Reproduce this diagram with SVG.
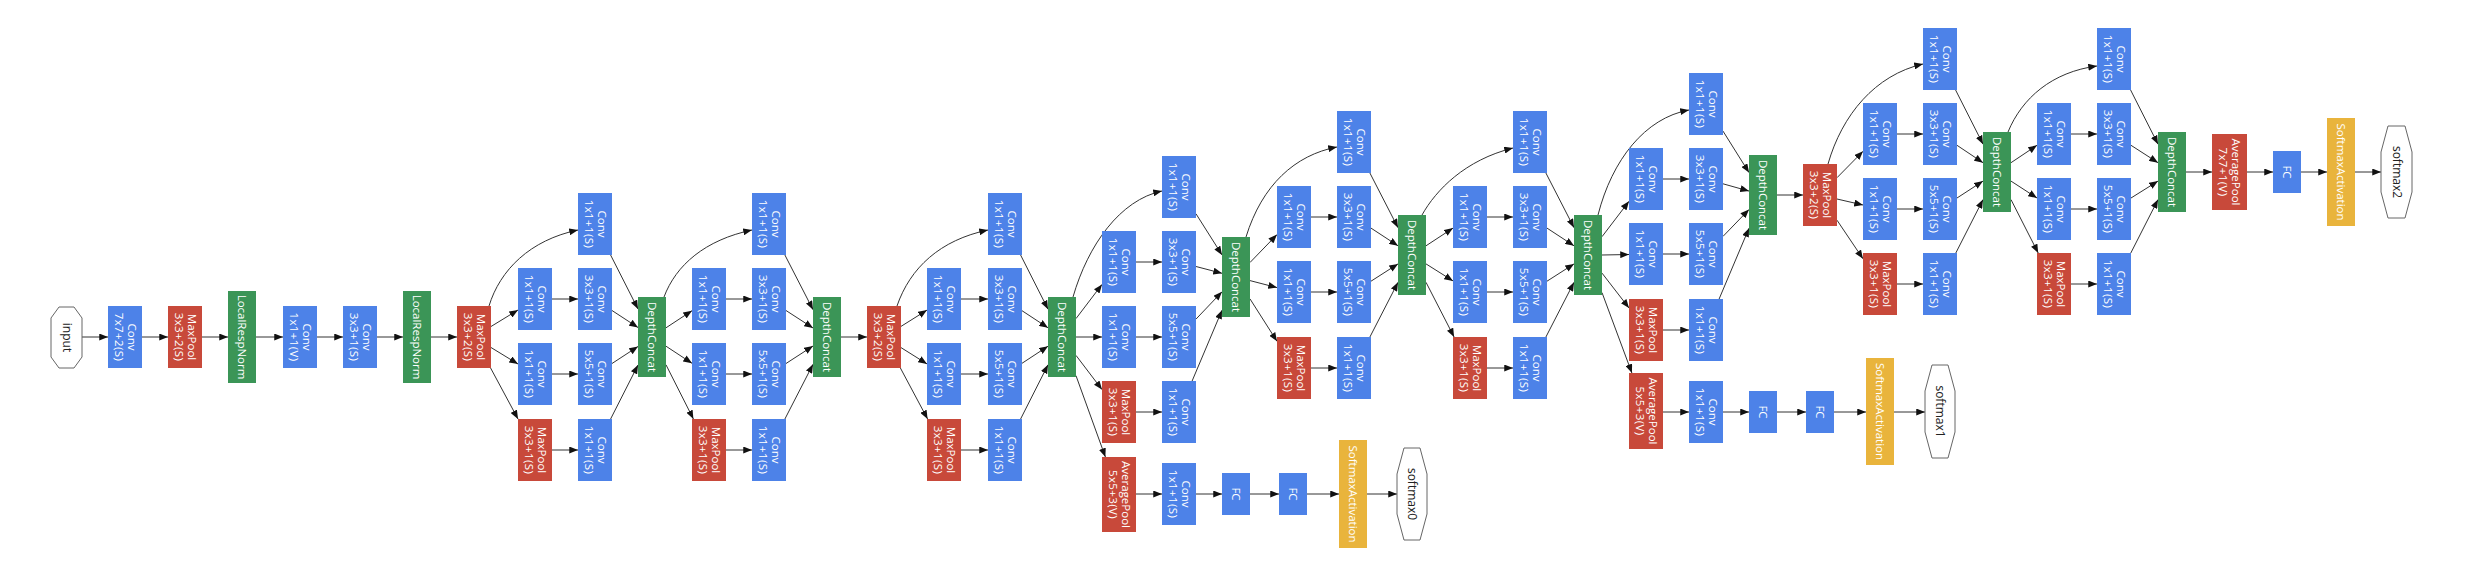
<svg xmlns="http://www.w3.org/2000/svg" width="2470" height="564" viewBox="0 0 2470 564">
<defs>
<marker id="ah" viewBox="0 0 10 8" refX="10" refY="4" markerWidth="9" markerHeight="7" markerUnits="userSpaceOnUse" orient="auto"><path d="M0,0L10,4L0,8z" fill="#111"/></marker>
<style>
.conv{fill:#4d82e8}
.pool{fill:#c8493a}
.dc{fill:#3b9557}
.sm{fill:#e9b43c}
.oct{fill:#fff;stroke:#666;stroke-width:1}
.t{font-family:"Open Sans","Noto Sans",sans-serif;font-size:11.5px;fill:#fff;text-anchor:middle}
.t tspan + tspan{letter-spacing:0.4px}
.to{font-family:"Open Sans","Noto Sans",sans-serif;font-size:12px;fill:#222;text-anchor:middle}
.e path{fill:none;stroke:#333;stroke-width:1;marker-end:url(#ah)}
</style>
</defs>
<rect width="2470" height="564" fill="#fff"/>
<g class="e" id="connectors">
<path d="M82 337H108"/><path d="M142 337H168"/><path d="M202 337H228"/><path d="M256 337H283"/><path d="M317 337H343"/><path d="M377 337H403"/><path d="M431 337H457"/>
<path d="M489 306C500 270 530 240 578 230"/><path d="M491 326.5L518 310"/><path d="M491 347.5L518 364"/><path d="M490.6 368L518 419"/>
<path d="M552 299H578"/><path d="M552 374H578"/><path d="M552 450H578"/>
<path d="M610.6 255L638 309"/><path d="M612 310.5L638 327.5"/><path d="M612 363.5L638 346.5"/><path d="M610.6 419L638 365"/>
<path d="M664 297C676 265 705 240 752 230"/><path d="M666 327.8L692 310.7"/><path d="M666 346.2L692 363.3"/><path d="M666 364.8L693.4 419"/>
<path d="M726 299H752"/><path d="M726 374H752"/><path d="M726 450H752"/>
<path d="M784.9 255L813 309.7"/><path d="M786 310.5L813 328"/><path d="M786 363.5L813 346"/><path d="M784.9 419L813 364.3"/>
<path d="M841 337H867"/>
<path d="M897 306C910 268 940 240 988 230"/><path d="M901 326.4L927 310.1"/><path d="M901 347.6L927 363.9"/><path d="M900.4 368L927.6 419"/>
<path d="M961 299H988"/><path d="M961 374H988"/><path d="M961 450H988"/>
<path d="M1020.6 255L1048 309.2"/><path d="M1022 310.7L1048 327.8"/><path d="M1022 363.3L1048 346.2"/><path d="M1020.6 419L1048 364.8"/>
<path d="M1073 297C1088 245 1120 200 1162 191"/><path d="M1076 318.6L1102 284.4"/><path d="M1076 337H1102"/><path d="M1076 355.4L1102 389.6"/><path d="M1076 375.7L1105.4 457"/>
<path d="M1136 262H1162"/><path d="M1136 337H1162"/><path d="M1136 412H1162"/><path d="M1136 494H1162"/>
<path d="M1196 494H1222"/><path d="M1250 494H1279"/><path d="M1307 494H1339"/><path d="M1367 494H1397"/>
<path d="M1196 213.8L1222 254.9"/><path d="M1196 266.5L1222 273.3"/><path d="M1196 319.1L1222 291.8"/><path d="M1192.1 381L1222 310.2"/>
<path d="M1246 237C1262 185 1295 155 1337 147"/><path d="M1250 262.5L1277 234.6"/><path d="M1250 280.6L1277 287.6"/><path d="M1250 298.9L1277 341.3"/>
<path d="M1311 217H1337"/><path d="M1311 292H1337"/><path d="M1311 368H1337"/>
<path d="M1369.9 173L1398 227.7"/><path d="M1371 228.1L1398 245.8"/><path d="M1371 281.2L1398 263.9"/><path d="M1369.9 337L1398 282.3"/>
<path d="M1422 215C1436 190 1465 160 1513 148"/><path d="M1426 245.8L1453 228.1"/><path d="M1426 263.9L1453 280.9"/><path d="M1426 282.3L1454.1 337"/>
<path d="M1487 217H1513"/><path d="M1487 292H1513"/><path d="M1487 368H1513"/>
<path d="M1545.9 173L1574 227.7"/><path d="M1547 228.1L1574 245.8"/><path d="M1547 281.2L1574 263.9"/><path d="M1545.9 337L1574 282.3"/>
<path d="M1598 215C1612 160 1645 118 1689 110"/><path d="M1602 236.7L1629 201.3"/><path d="M1602 255L1629 254.5"/><path d="M1602 273.1L1629 308"/><path d="M1602 292.6L1631.9 373"/>
<path d="M1663 179H1689"/><path d="M1663 254H1689"/><path d="M1663 330H1689"/><path d="M1663 412H1689"/>
<path d="M1723 412H1749"/><path d="M1777 412H1806"/><path d="M1834 412H1866"/><path d="M1894 412H1925"/>
<path d="M1723 131.1L1749 172.6"/><path d="M1723 183.8L1749 191.1"/><path d="M1723 236.4L1749 209.5"/><path d="M1719.1 299L1749 228.2"/>
<path d="M1777 195H1803"/>
<path d="M1828 164C1842 115 1875 75 1923 64"/><path d="M1837 177.7L1863 151.3"/><path d="M1837 199L1863 205"/><path d="M1837 220.2L1863 258.8"/>
<path d="M1897 134H1923"/><path d="M1897 209H1923"/><path d="M1897 284H1923"/>
<path d="M1955.6 90L1983 144.2"/><path d="M1957 145.3L1983 162.7"/><path d="M1957 198L1983 181.1"/><path d="M1955.8 253L1983 199.6"/>
<path d="M2008 132C2022 98 2052 72 2097 66"/><path d="M2011 162.7L2037 145.3"/><path d="M2011 181.1L2037 198"/><path d="M2011 199.6L2038.2 253"/>
<path d="M2071 134H2097"/><path d="M2071 209H2097"/><path d="M2071 284H2097"/>
<path d="M2130.6 90L2158 144.2"/><path d="M2131 145.3L2158 162.7"/><path d="M2131 198L2158 181.1"/><path d="M2130.8 253L2158 199.6"/>
<path d="M2186 172H2212"/><path d="M2247 172H2273"/><path d="M2301 172H2327"/><path d="M2355 172H2381"/>
</g>

<g id="input"><polygon class="oct" points="59,307 74,307 82,318 82,357 74,368 59,368 51,357 51,318"/><text class="to" font-size="11" transform="translate(66.5,337.5) rotate(90)" y="4">input</text></g>
<g id="conv1"><rect class="conv" x="108" y="306" width="34" height="62"/><text class="t" transform="translate(125,337) rotate(90)"><tspan x="0" y="-2.5">Conv</tspan><tspan x="0" y="10.5">7x7+2(S)</tspan></text></g>
<g id="pool1"><rect class="pool" x="168" y="306" width="34" height="62"/><text class="t" transform="translate(185,337) rotate(90)"><tspan x="0" y="-2.5">MaxPool</tspan><tspan x="0" y="10.5">3x3+2(S)</tspan></text></g>
<g id="lrn1"><rect class="dc" x="228" y="291" width="28" height="92"/><text class="t" transform="translate(242,337) rotate(90)" y="4">LocalRespNorm</text></g>
<g id="conv2"><rect class="conv" x="283" y="306" width="34" height="62"/><text class="t" transform="translate(300,337) rotate(90)"><tspan x="0" y="-2.5">Conv</tspan><tspan x="0" y="10.5">1x1+1(V)</tspan></text></g>
<g id="conv3"><rect class="conv" x="343" y="306" width="34" height="62"/><text class="t" transform="translate(360,337) rotate(90)"><tspan x="0" y="-2.5">Conv</tspan><tspan x="0" y="10.5">3x3+1(S)</tspan></text></g>
<g id="lrn2"><rect class="dc" x="403" y="291" width="28" height="92"/><text class="t" transform="translate(417,337) rotate(90)" y="4">LocalRespNorm</text></g>
<g id="pool2"><rect class="pool" x="457" y="306" width="34" height="62"/><text class="t" transform="translate(474,337) rotate(90)"><tspan x="0" y="-2.5">MaxPool</tspan><tspan x="0" y="10.5">3x3+2(S)</tspan></text></g>

<g id="i3a_1x1"><rect class="conv" x="578" y="193" width="34" height="62"/><text class="t" transform="translate(595,224) rotate(90)"><tspan x="0" y="-2.5">Conv</tspan><tspan x="0" y="10.5">1x1+1(S)</tspan></text></g>
<g id="i3a_3x3r"><rect class="conv" x="518" y="268" width="34" height="62"/><text class="t" transform="translate(535,299) rotate(90)"><tspan x="0" y="-2.5">Conv</tspan><tspan x="0" y="10.5">1x1+1(S)</tspan></text></g>
<g id="i3a_3x3"><rect class="conv" x="578" y="268" width="34" height="62"/><text class="t" transform="translate(595,299) rotate(90)"><tspan x="0" y="-2.5">Conv</tspan><tspan x="0" y="10.5">3x3+1(S)</tspan></text></g>
<g id="i3a_5x5r"><rect class="conv" x="518" y="343" width="34" height="62"/><text class="t" transform="translate(535,374) rotate(90)"><tspan x="0" y="-2.5">Conv</tspan><tspan x="0" y="10.5">1x1+1(S)</tspan></text></g>
<g id="i3a_5x5"><rect class="conv" x="578" y="343" width="34" height="62"/><text class="t" transform="translate(595,374) rotate(90)"><tspan x="0" y="-2.5">Conv</tspan><tspan x="0" y="10.5">5x5+1(S)</tspan></text></g>
<g id="i3a_pool"><rect class="pool" x="518" y="419" width="34" height="62"/><text class="t" transform="translate(535,450) rotate(90)"><tspan x="0" y="-2.5">MaxPool</tspan><tspan x="0" y="10.5">3x3+1(S)</tspan></text></g>
<g id="i3a_proj"><rect class="conv" x="578" y="419" width="34" height="62"/><text class="t" transform="translate(595,450) rotate(90)"><tspan x="0" y="-2.5">Conv</tspan><tspan x="0" y="10.5">1x1+1(S)</tspan></text></g>
<g id="i3a_dc"><rect class="dc" x="638" y="297" width="28" height="80"/><text class="t" transform="translate(652,337) rotate(90)" y="4">DepthConcat</text></g>

<g id="i3b_1x1"><rect class="conv" x="752" y="193" width="34" height="62"/><text class="t" transform="translate(769,224) rotate(90)"><tspan x="0" y="-2.5">Conv</tspan><tspan x="0" y="10.5">1x1+1(S)</tspan></text></g>
<g id="i3b_3x3r"><rect class="conv" x="692" y="268" width="34" height="62"/><text class="t" transform="translate(709,299) rotate(90)"><tspan x="0" y="-2.5">Conv</tspan><tspan x="0" y="10.5">1x1+1(S)</tspan></text></g>
<g id="i3b_3x3"><rect class="conv" x="752" y="268" width="34" height="62"/><text class="t" transform="translate(769,299) rotate(90)"><tspan x="0" y="-2.5">Conv</tspan><tspan x="0" y="10.5">3x3+1(S)</tspan></text></g>
<g id="i3b_5x5r"><rect class="conv" x="692" y="343" width="34" height="62"/><text class="t" transform="translate(709,374) rotate(90)"><tspan x="0" y="-2.5">Conv</tspan><tspan x="0" y="10.5">1x1+1(S)</tspan></text></g>
<g id="i3b_5x5"><rect class="conv" x="752" y="343" width="34" height="62"/><text class="t" transform="translate(769,374) rotate(90)"><tspan x="0" y="-2.5">Conv</tspan><tspan x="0" y="10.5">5x5+1(S)</tspan></text></g>
<g id="i3b_pool"><rect class="pool" x="692" y="419" width="34" height="62"/><text class="t" transform="translate(709,450) rotate(90)"><tspan x="0" y="-2.5">MaxPool</tspan><tspan x="0" y="10.5">3x3+1(S)</tspan></text></g>
<g id="i3b_proj"><rect class="conv" x="752" y="419" width="34" height="62"/><text class="t" transform="translate(769,450) rotate(90)"><tspan x="0" y="-2.5">Conv</tspan><tspan x="0" y="10.5">1x1+1(S)</tspan></text></g>
<g id="i3b_dc"><rect class="dc" x="813" y="297" width="28" height="80"/><text class="t" transform="translate(827,337) rotate(90)" y="4">DepthConcat</text></g>

<g id="pool3"><rect class="pool" x="867" y="306" width="34" height="62"/><text class="t" transform="translate(884,337) rotate(90)"><tspan x="0" y="-2.5">MaxPool</tspan><tspan x="0" y="10.5">3x3+2(S)</tspan></text></g>

<g id="i4a_1x1"><rect class="conv" x="988" y="193" width="34" height="62"/><text class="t" transform="translate(1005,224) rotate(90)"><tspan x="0" y="-2.5">Conv</tspan><tspan x="0" y="10.5">1x1+1(S)</tspan></text></g>
<g id="i4a_3x3r"><rect class="conv" x="927" y="268" width="34" height="62"/><text class="t" transform="translate(944,299) rotate(90)"><tspan x="0" y="-2.5">Conv</tspan><tspan x="0" y="10.5">1x1+1(S)</tspan></text></g>
<g id="i4a_3x3"><rect class="conv" x="988" y="268" width="34" height="62"/><text class="t" transform="translate(1005,299) rotate(90)"><tspan x="0" y="-2.5">Conv</tspan><tspan x="0" y="10.5">3x3+1(S)</tspan></text></g>
<g id="i4a_5x5r"><rect class="conv" x="927" y="343" width="34" height="62"/><text class="t" transform="translate(944,374) rotate(90)"><tspan x="0" y="-2.5">Conv</tspan><tspan x="0" y="10.5">1x1+1(S)</tspan></text></g>
<g id="i4a_5x5"><rect class="conv" x="988" y="343" width="34" height="62"/><text class="t" transform="translate(1005,374) rotate(90)"><tspan x="0" y="-2.5">Conv</tspan><tspan x="0" y="10.5">5x5+1(S)</tspan></text></g>
<g id="i4a_pool"><rect class="pool" x="927" y="419" width="34" height="62"/><text class="t" transform="translate(944,450) rotate(90)"><tspan x="0" y="-2.5">MaxPool</tspan><tspan x="0" y="10.5">3x3+1(S)</tspan></text></g>
<g id="i4a_proj"><rect class="conv" x="988" y="419" width="34" height="62"/><text class="t" transform="translate(1005,450) rotate(90)"><tspan x="0" y="-2.5">Conv</tspan><tspan x="0" y="10.5">1x1+1(S)</tspan></text></g>
<g id="i4a_dc"><rect class="dc" x="1048" y="297" width="28" height="80"/><text class="t" transform="translate(1062,337) rotate(90)" y="4">DepthConcat</text></g>

<g id="i4b_1x1"><rect class="conv" x="1162" y="156" width="34" height="62"/><text class="t" transform="translate(1179,187) rotate(90)"><tspan x="0" y="-2.5">Conv</tspan><tspan x="0" y="10.5">1x1+1(S)</tspan></text></g>
<g id="i4b_3x3r"><rect class="conv" x="1102" y="231" width="34" height="62"/><text class="t" transform="translate(1119,262) rotate(90)"><tspan x="0" y="-2.5">Conv</tspan><tspan x="0" y="10.5">1x1+1(S)</tspan></text></g>
<g id="i4b_3x3"><rect class="conv" x="1162" y="231" width="34" height="62"/><text class="t" transform="translate(1179,262) rotate(90)"><tspan x="0" y="-2.5">Conv</tspan><tspan x="0" y="10.5">3x3+1(S)</tspan></text></g>
<g id="i4b_5x5r"><rect class="conv" x="1102" y="306" width="34" height="62"/><text class="t" transform="translate(1119,337) rotate(90)"><tspan x="0" y="-2.5">Conv</tspan><tspan x="0" y="10.5">1x1+1(S)</tspan></text></g>
<g id="i4b_5x5"><rect class="conv" x="1162" y="306" width="34" height="62"/><text class="t" transform="translate(1179,337) rotate(90)"><tspan x="0" y="-2.5">Conv</tspan><tspan x="0" y="10.5">5x5+1(S)</tspan></text></g>
<g id="i4b_pool"><rect class="pool" x="1102" y="381" width="34" height="62"/><text class="t" transform="translate(1119,412) rotate(90)"><tspan x="0" y="-2.5">MaxPool</tspan><tspan x="0" y="10.5">3x3+1(S)</tspan></text></g>
<g id="i4b_proj"><rect class="conv" x="1162" y="381" width="34" height="62"/><text class="t" transform="translate(1179,412) rotate(90)"><tspan x="0" y="-2.5">Conv</tspan><tspan x="0" y="10.5">1x1+1(S)</tspan></text></g>
<g id="i4b_dc"><rect class="dc" x="1222" y="237" width="28" height="80"/><text class="t" transform="translate(1236,277) rotate(90)" y="4">DepthConcat</text></g>

<g id="aux0_pool"><rect class="pool" x="1102" y="457" width="34" height="75"/><text class="t" transform="translate(1119,494.5) rotate(90)"><tspan x="0" y="-2.5">AveragePool</tspan><tspan x="0" y="10.5">5x5+3(V)</tspan></text></g>
<g id="aux0_conv"><rect class="conv" x="1162" y="463" width="34" height="62"/><text class="t" transform="translate(1179,494) rotate(90)"><tspan x="0" y="-2.5">Conv</tspan><tspan x="0" y="10.5">1x1+1(S)</tspan></text></g>
<g id="aux0_fc1"><rect class="conv" x="1222" y="473" width="28" height="42"/><text class="t" transform="translate(1236,494) rotate(90)" y="4">FC</text></g>
<g id="aux0_fc2"><rect class="conv" x="1279" y="473" width="28" height="42"/><text class="t" transform="translate(1293,494) rotate(90)" y="4">FC</text></g>
<g id="aux0_sm"><rect class="sm" x="1339" y="440" width="28" height="108"/><text class="t" transform="translate(1353,494) rotate(90)" y="4">SoftmaxActivation</text></g>
<g id="softmax0"><polygon class="oct" points="1404,448 1420,448 1427,474 1427,514 1420,540 1404,540 1397,514 1397,474"/><text class="to" transform="translate(1412,494) rotate(90)" y="4">softmax0</text></g>

<g id="i4c_1x1"><rect class="conv" x="1337" y="111" width="34" height="62"/><text class="t" transform="translate(1354,142) rotate(90)"><tspan x="0" y="-2.5">Conv</tspan><tspan x="0" y="10.5">1x1+1(S)</tspan></text></g>
<g id="i4c_3x3r"><rect class="conv" x="1277" y="186" width="34" height="62"/><text class="t" transform="translate(1294,217) rotate(90)"><tspan x="0" y="-2.5">Conv</tspan><tspan x="0" y="10.5">1x1+1(S)</tspan></text></g>
<g id="i4c_3x3"><rect class="conv" x="1337" y="186" width="34" height="62"/><text class="t" transform="translate(1354,217) rotate(90)"><tspan x="0" y="-2.5">Conv</tspan><tspan x="0" y="10.5">3x3+1(S)</tspan></text></g>
<g id="i4c_5x5r"><rect class="conv" x="1277" y="261" width="34" height="62"/><text class="t" transform="translate(1294,292) rotate(90)"><tspan x="0" y="-2.5">Conv</tspan><tspan x="0" y="10.5">1x1+1(S)</tspan></text></g>
<g id="i4c_5x5"><rect class="conv" x="1337" y="261" width="34" height="62"/><text class="t" transform="translate(1354,292) rotate(90)"><tspan x="0" y="-2.5">Conv</tspan><tspan x="0" y="10.5">5x5+1(S)</tspan></text></g>
<g id="i4c_pool"><rect class="pool" x="1277" y="337" width="34" height="62"/><text class="t" transform="translate(1294,368) rotate(90)"><tspan x="0" y="-2.5">MaxPool</tspan><tspan x="0" y="10.5">3x3+1(S)</tspan></text></g>
<g id="i4c_proj"><rect class="conv" x="1337" y="337" width="34" height="62"/><text class="t" transform="translate(1354,368) rotate(90)"><tspan x="0" y="-2.5">Conv</tspan><tspan x="0" y="10.5">1x1+1(S)</tspan></text></g>
<g id="i4c_dc"><rect class="dc" x="1398" y="215" width="28" height="80"/><text class="t" transform="translate(1412,255) rotate(90)" y="4">DepthConcat</text></g>

<g id="i4d_1x1"><rect class="conv" x="1513" y="111" width="34" height="62"/><text class="t" transform="translate(1530,142) rotate(90)"><tspan x="0" y="-2.5">Conv</tspan><tspan x="0" y="10.5">1x1+1(S)</tspan></text></g>
<g id="i4d_3x3r"><rect class="conv" x="1453" y="186" width="34" height="62"/><text class="t" transform="translate(1470,217) rotate(90)"><tspan x="0" y="-2.5">Conv</tspan><tspan x="0" y="10.5">1x1+1(S)</tspan></text></g>
<g id="i4d_3x3"><rect class="conv" x="1513" y="186" width="34" height="62"/><text class="t" transform="translate(1530,217) rotate(90)"><tspan x="0" y="-2.5">Conv</tspan><tspan x="0" y="10.5">3x3+1(S)</tspan></text></g>
<g id="i4d_5x5r"><rect class="conv" x="1453" y="261" width="34" height="62"/><text class="t" transform="translate(1470,292) rotate(90)"><tspan x="0" y="-2.5">Conv</tspan><tspan x="0" y="10.5">1x1+1(S)</tspan></text></g>
<g id="i4d_5x5"><rect class="conv" x="1513" y="261" width="34" height="62"/><text class="t" transform="translate(1530,292) rotate(90)"><tspan x="0" y="-2.5">Conv</tspan><tspan x="0" y="10.5">5x5+1(S)</tspan></text></g>
<g id="i4d_pool"><rect class="pool" x="1453" y="337" width="34" height="62"/><text class="t" transform="translate(1470,368) rotate(90)"><tspan x="0" y="-2.5">MaxPool</tspan><tspan x="0" y="10.5">3x3+1(S)</tspan></text></g>
<g id="i4d_proj"><rect class="conv" x="1513" y="337" width="34" height="62"/><text class="t" transform="translate(1530,368) rotate(90)"><tspan x="0" y="-2.5">Conv</tspan><tspan x="0" y="10.5">1x1+1(S)</tspan></text></g>
<g id="i4d_dc"><rect class="dc" x="1574" y="215" width="28" height="80"/><text class="t" transform="translate(1588,255) rotate(90)" y="4">DepthConcat</text></g>

<g id="i4e_1x1"><rect class="conv" x="1689" y="73" width="34" height="62"/><text class="t" transform="translate(1706,104) rotate(90)"><tspan x="0" y="-2.5">Conv</tspan><tspan x="0" y="10.5">1x1+1(S)</tspan></text></g>
<g id="i4e_3x3r"><rect class="conv" x="1629" y="148" width="34" height="62"/><text class="t" transform="translate(1646,179) rotate(90)"><tspan x="0" y="-2.5">Conv</tspan><tspan x="0" y="10.5">1x1+1(S)</tspan></text></g>
<g id="i4e_3x3"><rect class="conv" x="1689" y="148" width="34" height="62"/><text class="t" transform="translate(1706,179) rotate(90)"><tspan x="0" y="-2.5">Conv</tspan><tspan x="0" y="10.5">3x3+1(S)</tspan></text></g>
<g id="i4e_5x5r"><rect class="conv" x="1629" y="223" width="34" height="62"/><text class="t" transform="translate(1646,254) rotate(90)"><tspan x="0" y="-2.5">Conv</tspan><tspan x="0" y="10.5">1x1+1(S)</tspan></text></g>
<g id="i4e_5x5"><rect class="conv" x="1689" y="223" width="34" height="62"/><text class="t" transform="translate(1706,254) rotate(90)"><tspan x="0" y="-2.5">Conv</tspan><tspan x="0" y="10.5">5x5+1(S)</tspan></text></g>
<g id="i4e_pool"><rect class="pool" x="1629" y="299" width="34" height="62"/><text class="t" transform="translate(1646,330) rotate(90)"><tspan x="0" y="-2.5">MaxPool</tspan><tspan x="0" y="10.5">3x3+1(S)</tspan></text></g>
<g id="i4e_proj"><rect class="conv" x="1689" y="299" width="34" height="62"/><text class="t" transform="translate(1706,330) rotate(90)"><tspan x="0" y="-2.5">Conv</tspan><tspan x="0" y="10.5">1x1+1(S)</tspan></text></g>
<g id="i4e_dc"><rect class="dc" x="1749" y="155" width="28" height="80"/><text class="t" transform="translate(1763,195) rotate(90)" y="4">DepthConcat</text></g>

<g id="aux1_pool"><rect class="pool" x="1629" y="373" width="34" height="76"/><text class="t" transform="translate(1646,411) rotate(90)"><tspan x="0" y="-2.5">AveragePool</tspan><tspan x="0" y="10.5">5x5+3(V)</tspan></text></g>
<g id="aux1_conv"><rect class="conv" x="1689" y="381" width="34" height="62"/><text class="t" transform="translate(1706,412) rotate(90)"><tspan x="0" y="-2.5">Conv</tspan><tspan x="0" y="10.5">1x1+1(S)</tspan></text></g>
<g id="aux1_fc1"><rect class="conv" x="1749" y="391" width="28" height="42"/><text class="t" transform="translate(1763,412) rotate(90)" y="4">FC</text></g>
<g id="aux1_fc2"><rect class="conv" x="1806" y="391" width="28" height="42"/><text class="t" transform="translate(1820,412) rotate(90)" y="4">FC</text></g>
<g id="aux1_sm"><rect class="sm" x="1866" y="358" width="28" height="107"/><text class="t" transform="translate(1880,411.5) rotate(90)" y="4">SoftmaxActivation</text></g>
<g id="softmax1"><polygon class="oct" points="1932,365 1948,365 1955,391 1955,432 1948,458 1932,458 1925,432 1925,391"/><text class="to" transform="translate(1940,411.5) rotate(90)" y="4">softmax1</text></g>

<g id="pool4"><rect class="pool" x="1803" y="164" width="34" height="62"/><text class="t" transform="translate(1820,195) rotate(90)"><tspan x="0" y="-2.5">MaxPool</tspan><tspan x="0" y="10.5">3x3+2(S)</tspan></text></g>

<g id="i5a_1x1"><rect class="conv" x="1923" y="28" width="34" height="62"/><text class="t" transform="translate(1940,59) rotate(90)"><tspan x="0" y="-2.5">Conv</tspan><tspan x="0" y="10.5">1x1+1(S)</tspan></text></g>
<g id="i5a_3x3r"><rect class="conv" x="1863" y="103" width="34" height="62"/><text class="t" transform="translate(1880,134) rotate(90)"><tspan x="0" y="-2.5">Conv</tspan><tspan x="0" y="10.5">1x1+1(S)</tspan></text></g>
<g id="i5a_3x3"><rect class="conv" x="1923" y="103" width="34" height="62"/><text class="t" transform="translate(1940,134) rotate(90)"><tspan x="0" y="-2.5">Conv</tspan><tspan x="0" y="10.5">3x3+1(S)</tspan></text></g>
<g id="i5a_5x5r"><rect class="conv" x="1863" y="178" width="34" height="62"/><text class="t" transform="translate(1880,209) rotate(90)"><tspan x="0" y="-2.5">Conv</tspan><tspan x="0" y="10.5">1x1+1(S)</tspan></text></g>
<g id="i5a_5x5"><rect class="conv" x="1923" y="178" width="34" height="62"/><text class="t" transform="translate(1940,209) rotate(90)"><tspan x="0" y="-2.5">Conv</tspan><tspan x="0" y="10.5">5x5+1(S)</tspan></text></g>
<g id="i5a_pool"><rect class="pool" x="1863" y="253" width="34" height="62"/><text class="t" transform="translate(1880,284) rotate(90)"><tspan x="0" y="-2.5">MaxPool</tspan><tspan x="0" y="10.5">3x3+1(S)</tspan></text></g>
<g id="i5a_proj"><rect class="conv" x="1923" y="253" width="34" height="62"/><text class="t" transform="translate(1940,284) rotate(90)"><tspan x="0" y="-2.5">Conv</tspan><tspan x="0" y="10.5">1x1+1(S)</tspan></text></g>
<g id="i5a_dc"><rect class="dc" x="1983" y="132" width="28" height="80"/><text class="t" transform="translate(1997,172) rotate(90)" y="4">DepthConcat</text></g>

<g id="i5b_1x1"><rect class="conv" x="2097" y="28" width="34" height="62"/><text class="t" transform="translate(2114,59) rotate(90)"><tspan x="0" y="-2.5">Conv</tspan><tspan x="0" y="10.5">1x1+1(S)</tspan></text></g>
<g id="i5b_3x3r"><rect class="conv" x="2037" y="103" width="34" height="62"/><text class="t" transform="translate(2054,134) rotate(90)"><tspan x="0" y="-2.5">Conv</tspan><tspan x="0" y="10.5">1x1+1(S)</tspan></text></g>
<g id="i5b_3x3"><rect class="conv" x="2097" y="103" width="34" height="62"/><text class="t" transform="translate(2114,134) rotate(90)"><tspan x="0" y="-2.5">Conv</tspan><tspan x="0" y="10.5">3x3+1(S)</tspan></text></g>
<g id="i5b_5x5r"><rect class="conv" x="2037" y="178" width="34" height="62"/><text class="t" transform="translate(2054,209) rotate(90)"><tspan x="0" y="-2.5">Conv</tspan><tspan x="0" y="10.5">1x1+1(S)</tspan></text></g>
<g id="i5b_5x5"><rect class="conv" x="2097" y="178" width="34" height="62"/><text class="t" transform="translate(2114,209) rotate(90)"><tspan x="0" y="-2.5">Conv</tspan><tspan x="0" y="10.5">5x5+1(S)</tspan></text></g>
<g id="i5b_pool"><rect class="pool" x="2037" y="253" width="34" height="62"/><text class="t" transform="translate(2054,284) rotate(90)"><tspan x="0" y="-2.5">MaxPool</tspan><tspan x="0" y="10.5">3x3+1(S)</tspan></text></g>
<g id="i5b_proj"><rect class="conv" x="2097" y="253" width="34" height="62"/><text class="t" transform="translate(2114,284) rotate(90)"><tspan x="0" y="-2.5">Conv</tspan><tspan x="0" y="10.5">1x1+1(S)</tspan></text></g>
<g id="i5b_dc"><rect class="dc" x="2158" y="132" width="28" height="80"/><text class="t" transform="translate(2172,172) rotate(90)" y="4">DepthConcat</text></g>

<g id="avgpool"><rect class="pool" x="2212" y="134" width="35" height="76"/><text class="t" transform="translate(2229.5,172) rotate(90)"><tspan x="0" y="-2.5">AveragePool</tspan><tspan x="0" y="10.5">7x7+1(V)</tspan></text></g>
<g id="fc"><rect class="conv" x="2273" y="151" width="28" height="42"/><text class="t" transform="translate(2287,172) rotate(90)" y="4">FC</text></g>
<g id="sm2"><rect class="sm" x="2327" y="118" width="28" height="108"/><text class="t" transform="translate(2341,172) rotate(90)" y="4">SoftmaxActivation</text></g>
<g id="softmax2"><polygon class="oct" points="2388,126 2405,126 2412,152 2412,192 2405,218 2388,218 2381,192 2381,152"/><text class="to" transform="translate(2396.5,172) rotate(90)" y="4">softmax2</text></g>
</svg>
